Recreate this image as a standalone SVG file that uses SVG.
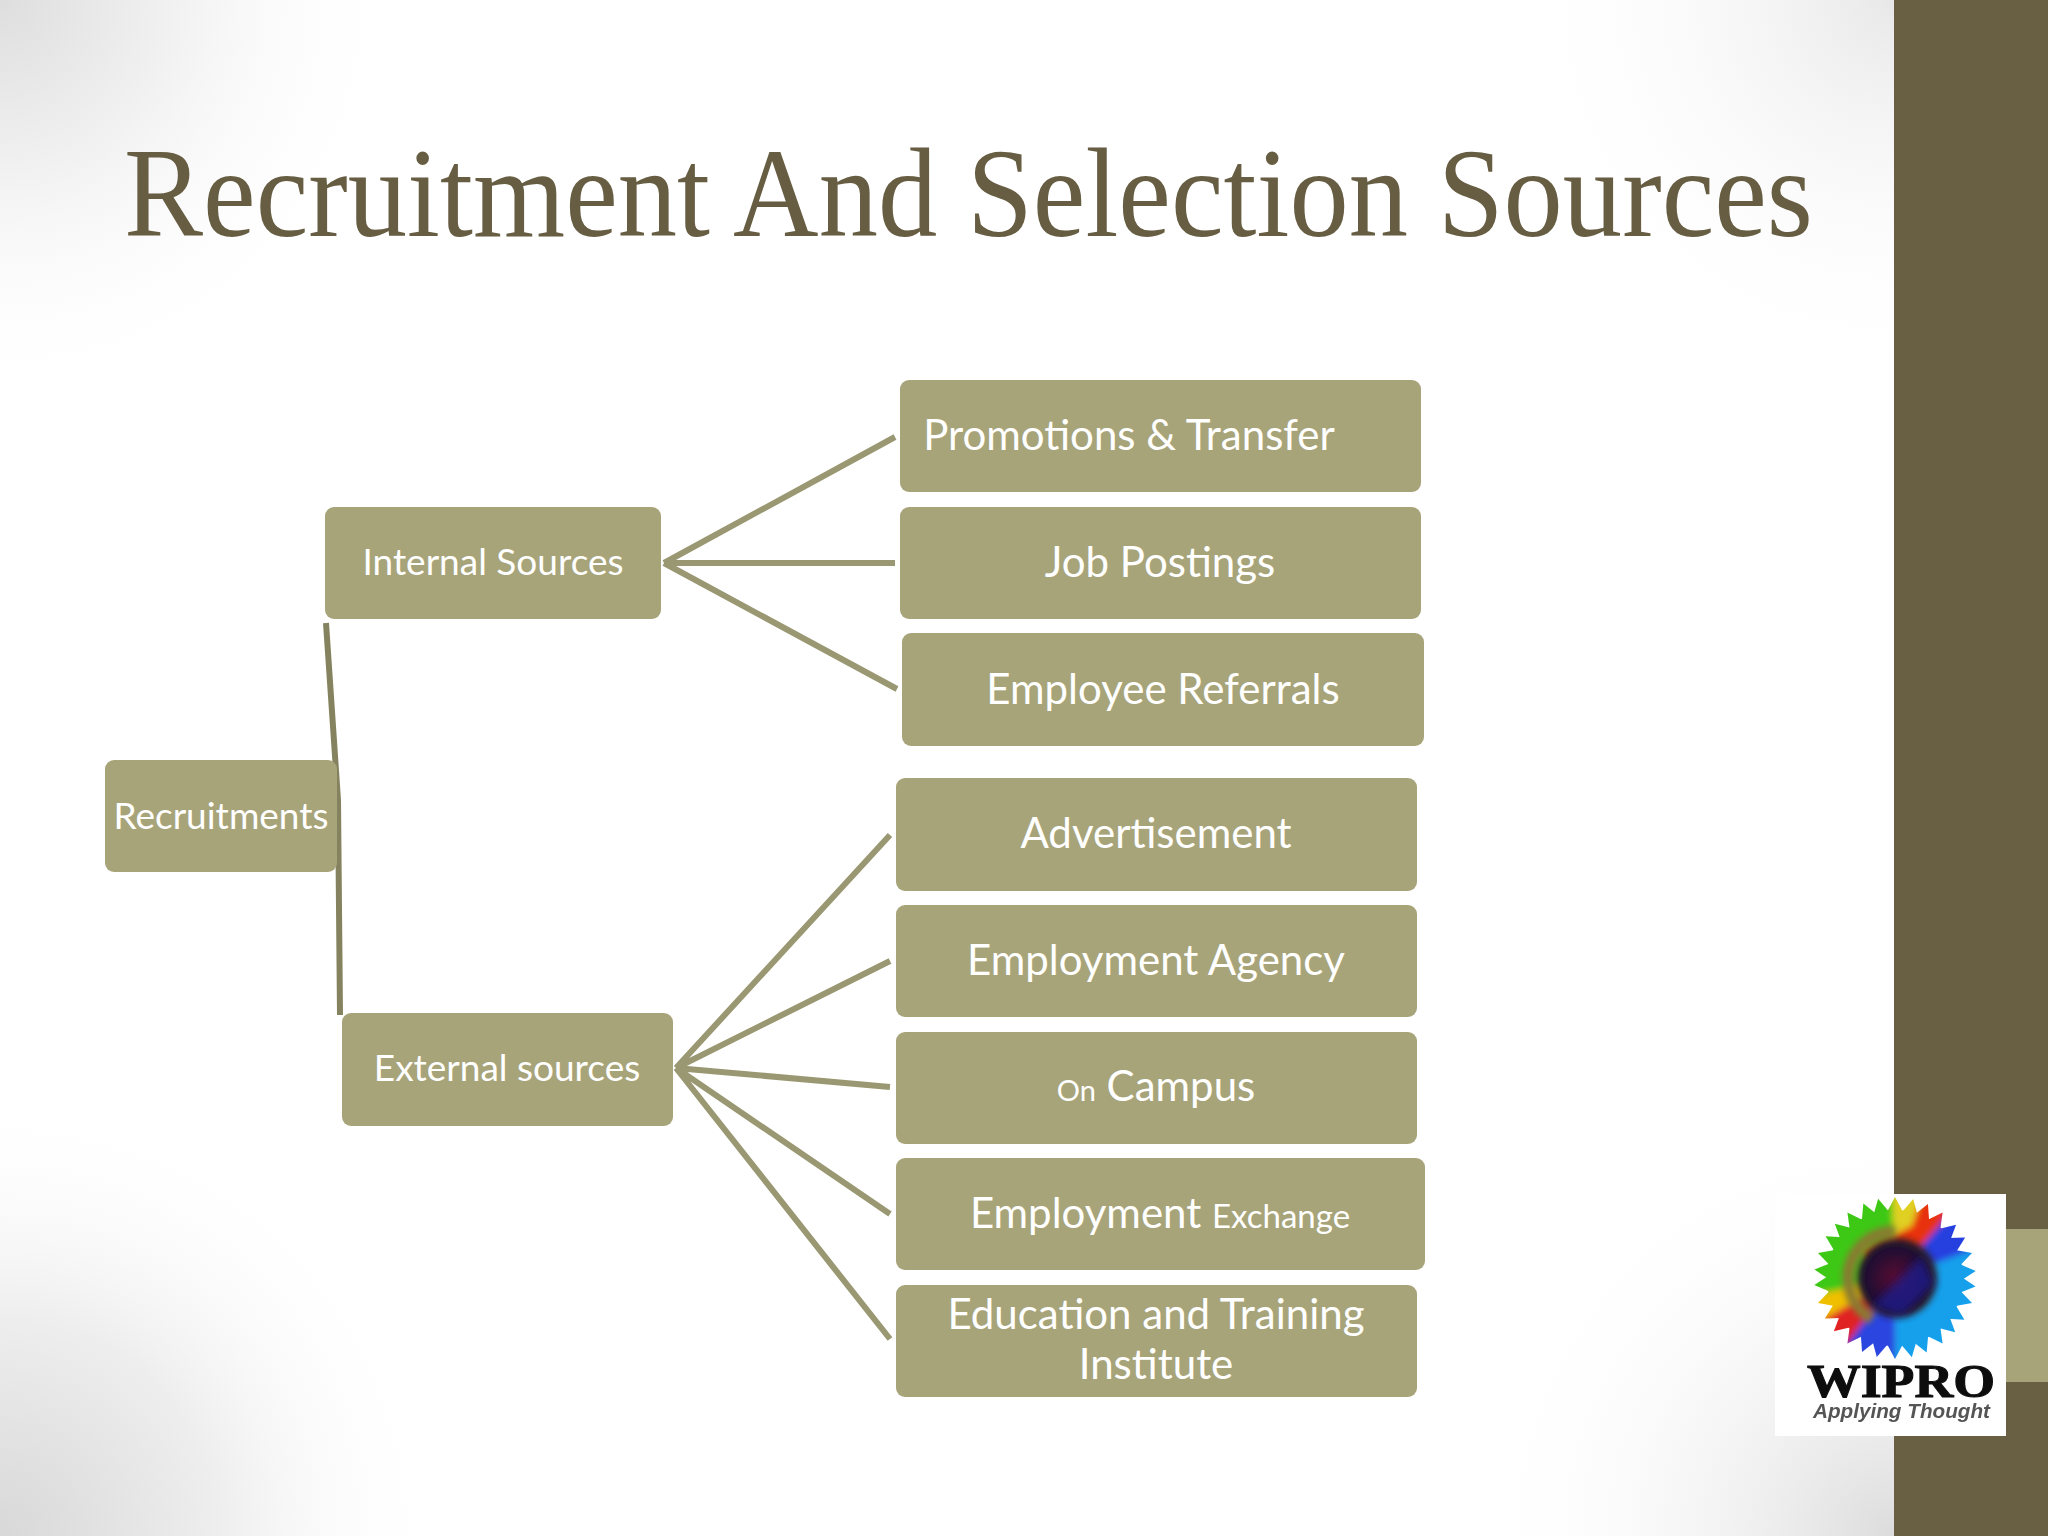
<svg xmlns="http://www.w3.org/2000/svg" width="2048" height="1536" viewBox="0 0 2048 1536">
<defs>
<radialGradient id="tl" gradientUnits="userSpaceOnUse" cx="0" cy="0" r="400">
<stop offset="0" stop-color="#dedede"/><stop offset="0.45" stop-color="#f2f2f2"/><stop offset="1" stop-color="#ffffff" stop-opacity="0"/>
</radialGradient>
<radialGradient id="bl" gradientUnits="userSpaceOnUse" cx="0" cy="1536" r="440">
<stop offset="0" stop-color="#d8d8d8"/><stop offset="0.5" stop-color="#eeeeee"/><stop offset="1" stop-color="#ffffff" stop-opacity="0"/>
</radialGradient>
<radialGradient id="tr" gradientUnits="userSpaceOnUse" cx="1894" cy="0" r="380">
<stop offset="0" stop-color="#e8e8e8"/><stop offset="1" stop-color="#ffffff" stop-opacity="0"/>
</radialGradient>
<radialGradient id="br" gradientUnits="userSpaceOnUse" cx="1894" cy="1536" r="420">
<stop offset="0" stop-color="#dcdcdc"/><stop offset="1" stop-color="#ffffff" stop-opacity="0"/>
</radialGradient>
<radialGradient id="core" gradientUnits="userSpaceOnUse" cx="1896" cy="1278" r="42">
<stop offset="0" stop-color="#5a1030"/><stop offset="0.75" stop-color="#1d1030"/><stop offset="1" stop-color="#3a2a20"/>
</radialGradient>
<filter id="soft" x="-20%" y="-20%" width="140%" height="140%"><feGaussianBlur stdDeviation="3"/></filter>
<filter id="soft2" x="-30%" y="-30%" width="160%" height="160%"><feGaussianBlur stdDeviation="4"/></filter>
<filter id="softer" x="-5%" y="-5%" width="110%" height="110%"><feGaussianBlur stdDeviation="0.5"/></filter>
<path id="tooth" d="M1887 1212 L1895 1197 L1903 1212 Z" fill="#fff"/>
<g id="teeth"><use href="#tooth"/><use href="#tooth" transform="rotate(13 1895 1278)"/><use href="#tooth" transform="rotate(24 1895 1278)"/></g>
<mask id="petals" maskUnits="userSpaceOnUse" x="1780" y="1190" width="230" height="200">
<circle cx="1895" cy="1278" r="68" fill="#fff"/>
<use href="#teeth"/><use href="#teeth" transform="rotate(36 1895 1278)"/><use href="#teeth" transform="rotate(72 1895 1278)"/><use href="#teeth" transform="rotate(108 1895 1278)"/><use href="#teeth" transform="rotate(144 1895 1278)"/><use href="#teeth" transform="rotate(180 1895 1278)"/><use href="#teeth" transform="rotate(216 1895 1278)"/><use href="#teeth" transform="rotate(252 1895 1278)"/><use href="#teeth" transform="rotate(288 1895 1278)"/><use href="#teeth" transform="rotate(324 1895 1278)"/>
</mask>
</defs>
<style>
.box{fill:#a8a47a}
.lbl{font-family:"Lato","Noto Sans",sans-serif;fill:#ffffff;text-anchor:middle}
.l1{font-size:37px}
.l2{font-size:42px}
.wire{stroke:#9a9872;stroke-width:6;fill:none}
.seg{fill:none;stroke-width:110}
</style>
<rect width="2048" height="1536" fill="#ffffff"/>
<rect width="400" height="400" fill="url(#tl)"/>
<rect y="1096" width="440" height="440" fill="url(#bl)"/>
<rect x="1514" width="380" height="380" fill="url(#tr)"/>
<rect x="1474" y="1116" width="420" height="420" fill="url(#br)"/>
<rect x="1894" width="154" height="1536" fill="#695f43"/>
<rect x="1894" y="1229" width="154" height="153" fill="#a8a47a"/>
<text x="124" y="236" font-family="'Liberation Serif',serif" font-size="128" fill="#665d42" textLength="1689" lengthAdjust="spacingAndGlyphs">Recruitment And Selection Sources</text>

<g id="connectors">
<path d="M326 623 L338 800 L340 1015" fill="none" stroke="#85835f" stroke-width="6"/>
<path class="wire" d="M895 437 L664 563 M895 563 L664 563 M897 689 L664 563"/>
<path class="wire" d="M890 835 L676 1068 M890 961 L676 1068 M890 1087 L676 1068 M890 1214 L676 1068 M890 1339 L676 1068"/>
</g>

<g id="recruitments"><rect class="box" x="105" y="760" width="232" height="112" rx="9"/><text class="lbl l1" x="221" y="829">Recruitments</text></g>
<g id="internal"><rect class="box" x="325" y="507" width="336" height="112" rx="9"/><text class="lbl l1" x="493" y="575">Internal Sources</text></g>
<g id="external"><rect class="box" x="342" y="1013" width="331" height="113" rx="9"/><text class="lbl l1" x="507" y="1081">External sources</text></g>
<g id="promotions"><rect class="box" x="900" y="380" width="521" height="112" rx="9"/><text class="lbl l2" x="1129" y="450">Promotions &amp; Transfer</text></g>
<g id="job"><rect class="box" x="900" y="507" width="521" height="112" rx="9"/><text class="lbl l2" x="1160" y="577">Job Postings</text></g>
<g id="referrals"><rect class="box" x="902" y="633" width="522" height="113" rx="9"/><text class="lbl l2" x="1163" y="704">Employee Referrals</text></g>
<g id="advertisement"><rect class="box" x="896" y="778" width="521" height="113" rx="9"/><text class="lbl l2" x="1156" y="848">Advertisement</text></g>
<g id="agency"><rect class="box" x="896" y="905" width="521" height="112" rx="9"/><text class="lbl l2" x="1156" y="975">Employment Agency</text></g>
<g id="campus"><rect class="box" x="896" y="1032" width="521" height="112" rx="9"/><text class="lbl l2" x="1156" y="1101"><tspan font-size="29">On</tspan> Campus</text></g>
<g id="exchange"><rect class="box" x="896" y="1158" width="529" height="112" rx="9"/><text class="lbl l2" x="1160" y="1228">Employment <tspan font-size="33">Exchange</tspan></text></g>
<g id="education"><rect class="box" x="896" y="1285" width="521" height="112" rx="9"/><text class="lbl l2" x="1156" y="1329">Education and Training</text><text class="lbl l2" x="1156" y="1379">Institute</text></g>

<g id="logo">
<rect x="1775" y="1194" width="231" height="242" fill="#ffffff"/>
<g mask="url(#petals)"><g filter="url(#soft)">
<circle class="seg" cx="1895" cy="1278" r="55" pathLength="360" stroke="#3ec818" stroke-dasharray="62 298" transform="rotate(-150 1895 1278)"/>
<circle class="seg" cx="1895" cy="1278" r="55" pathLength="360" stroke="#e0d020" stroke-dasharray="22 338" transform="rotate(-92 1895 1278)"/>
<circle class="seg" cx="1895" cy="1278" r="55" pathLength="360" stroke="#e83010" stroke-dasharray="24 336" transform="rotate(-72 1895 1278)"/>
<circle class="seg" cx="1895" cy="1278" r="55" pathLength="360" stroke="#2840e0" stroke-dasharray="32 328" transform="rotate(-50 1895 1278)"/>
<circle class="seg" cx="1895" cy="1278" r="55" pathLength="360" stroke="#18a0ec" stroke-dasharray="110 250" transform="rotate(-20 1895 1278)"/>
<circle class="seg" cx="1895" cy="1278" r="55" pathLength="360" stroke="#2c44e0" stroke-dasharray="38 322" transform="rotate(90 1895 1278)"/>
<circle class="seg" cx="1895" cy="1278" r="55" pathLength="360" stroke="#e02020" stroke-dasharray="26 334" transform="rotate(126 1895 1278)"/>
<circle class="seg" cx="1895" cy="1278" r="55" pathLength="360" stroke="#f0c000" stroke-dasharray="20 340" transform="rotate(150 1895 1278)"/>
<circle class="seg" cx="1895" cy="1278" r="55" pathLength="360" stroke="#3ec818" stroke-dasharray="44 316" transform="rotate(168 1895 1278)"/>
</g></g>
<g filter="url(#soft)">
<circle cx="1895" cy="1278" r="47" fill="none" stroke="#8a7a30" stroke-width="11" pathLength="360" stroke-dasharray="150 210" transform="rotate(120 1895 1278)"/>
<circle cx="1897" cy="1278" r="40" fill="url(#core)"/>
</g>
<path d="M1872 1306 L1922 1256 L1934 1284 L1902 1316 Z" fill="#1c1c90" opacity="0.75" filter="url(#soft2)"/>
<g filter="url(#softer)">
<text x="1807" y="1397" font-family="'Liberation Serif',serif" font-weight="bold" font-size="46" fill="#0c0c0c" stroke="#0c0c0c" stroke-width="1" textLength="188" lengthAdjust="spacingAndGlyphs">WIPRO</text>
<text x="1813" y="1418" font-family="'Liberation Sans',sans-serif" font-weight="bold" font-style="italic" font-size="20" fill="#555555" textLength="177" lengthAdjust="spacingAndGlyphs">Applying Thought</text>
</g>
</g>
</svg>
